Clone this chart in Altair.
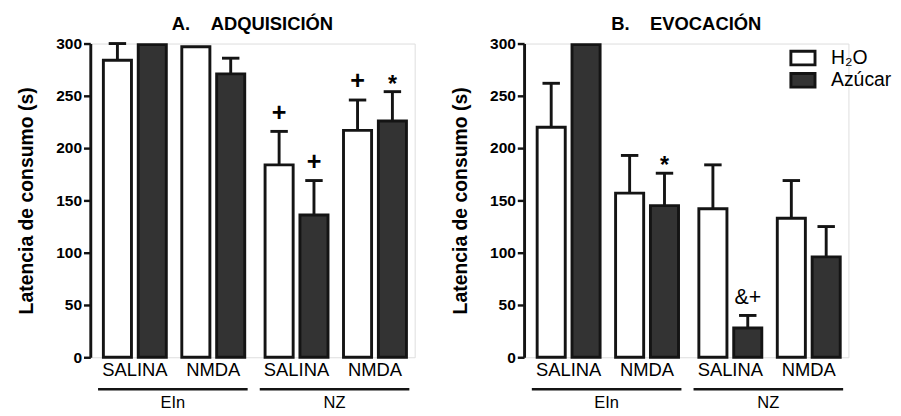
import altair as alt
import pandas as pd

# ---------------- data ----------------
groups = ["EIn", "EIn", "NZ", "NZ"]
drugs = ["SALINA", "NMDA", "SALINA", "NMDA"]
liquids = ["H₂O", "Azúcar"]

a_h2o = [284, 297, 184, 217]
a_h2o_err = [16, 0, 32, 29]
a_azu = [299, 271, 136, 226]
a_azu_err = [0, 15, 33, 28]
a_h2o_sig = ["", "", "+", "+"]
a_azu_sig = ["", "", "+", "*"]

b_h2o = [220, 157, 142, 133]
b_h2o_err = [42, 36, 42, 36]
b_azu = [299, 145, 28, 96]
b_azu_err = [0, 31, 12, 29]
b_h2o_sig = ["", "", "", ""]
b_azu_sig = ["", "*", "&+", ""]

y_ticks = [0, 50, 100, 150, 200, 250, 300]

# ---------------- layout ----------------
W, H = 335, 324
LEFT, BAR, INNER, PAIR_STEP, GROUP_GAP, STROKE, CAP = 12, 32, 4, 81, 5, 3, 9
FONT = "Liberation Sans, Arial, Helvetica, sans-serif"
INK = "#141414"
group_order = list(dict.fromkeys(groups))


def build_frames(series):
    rows, pairs = [], []
    for i in range(len(drugs)):
        gi = group_order.index(groups[i])
        base = LEFT + i * PAIR_STEP + gi * GROUP_GAP
        pairs.append(dict(group=groups[i], drug=drugs[i], left=base,
                          right=base + 2 * BAR + INNER, center=base + BAR + INNER / 2))
        for j, (vals, errs, sigs) in enumerate(series):
            x0 = base + j * (BAR + INNER) + STROKE / 2
            x1 = x0 + BAR - STROKE
            c = (x0 + x1) / 2
            rows.append(dict(liq=liquids[j], x0=x0, x1=x1, c=c, cl=c - CAP, cr=c + CAP,
                             v=vals[i], err=errs[i], top=vals[i] + errs[i], sig=sigs[i]))
    df = pd.DataFrame(rows)
    pf = pd.DataFrame(pairs)
    gf = pf.groupby("group", sort=False).agg(left=("left", "min"), right=("right", "max")).reset_index()
    gf["left"] = gf["left"] - 4
    gf["right"] = gf["right"] + 1.5
    gf["mid"] = (gf["left"] + gf["right"]) / 2
    return df, pf, gf


def panel(title, series, show_legend):
    df, pf, gf = build_frames(series)
    xs = alt.Scale(domain=[0, W], nice=False, zero=False)
    ys = alt.Scale(domain=[0, 300], nice=False)
    base = alt.Chart(df)

    if show_legend:
        legend = alt.Legend(
            orient="none", legendX=278, legendY=5, title=None, padding=0,
            symbolType="M-1.78,-1H1.78V1H-1.78Z", symbolSize=196,
            symbolStrokeWidth=3, symbolStrokeColor=INK, symbolOpacity=1,
            labelFontSize=20, labelFont=FONT, labelColor="#000",
            labelOffset=19, rowPadding=-5, labelLimit=200,
        )
    else:
        legend = None

    stems = base.transform_filter("datum.err > 0").mark_rule(strokeWidth=3, color=INK).encode(
        x=alt.X("c:Q", scale=xs, axis=None), y=alt.Y("v:Q", scale=ys), y2="top:Q")
    caps = base.transform_filter("datum.err > 0").mark_rule(strokeWidth=3, color=INK).encode(
        x=alt.X("cl:Q", scale=xs, axis=None), x2="cr:Q", y=alt.Y("top:Q", scale=ys))
    bars = base.mark_rect(strokeWidth=STROKE, stroke=INK).encode(
        x=alt.X("x0:Q", scale=xs, axis=None),
        x2="x1:Q",
        y=alt.Y("v:Q", scale=ys, axis=alt.Axis(
            values=y_ticks, title="Latencia de consumo (s)", titleFont=FONT,
            titleFontSize=20, titleFontWeight="bold", titleColor="#000", titlePadding=20,
            labelFont=FONT, labelFontSize=16, labelFontWeight="bold", labelColor="#000",
            labelPadding=2, tickSize=7, tickWidth=2.5, tickColor=INK,
            domainWidth=3, domainColor=INK, grid=False)),
        y2=alt.datum(0),
        fill=alt.Fill("liq:N", scale=alt.Scale(domain=liquids, range=["#ffffff", "#333333"]),
                      legend=legend, sort=liquids),
    )
    plus = base.transform_filter("datum.sig == '+'").mark_text(
        baseline="bottom", dy=-6, fontSize=26, fontWeight="bold", font=FONT, color="#000").encode(
        x=alt.X("c:Q", scale=xs, axis=None), y=alt.Y("top:Q", scale=ys), text="sig:N")
    star = base.transform_filter("datum.sig == '*'").mark_text(
        baseline="bottom", dy=5, fontSize=24, fontWeight="bold", font=FONT, color="#000").encode(
        x=alt.X("c:Q", scale=xs, axis=None), y=alt.Y("top:Q", scale=ys), text="sig:N")
    other = base.transform_filter("datum.sig != '' && datum.sig != '+' && datum.sig != '*'").mark_text(
        baseline="bottom", dy=-7, fontSize=22, font=FONT, color="#000").encode(
        x=alt.X("c:Q", scale=xs, axis=None), y=alt.Y("top:Q", scale=ys), text="sig:N")

    cat = alt.Chart(pf).mark_text(fontSize=19, font=FONT, baseline="middle", color="#000").encode(
        x=alt.X("center:Q", scale=xs, axis=None), y=alt.value(H + 13), text="drug:N")
    glines = alt.Chart(gf).mark_rule(strokeWidth=2.5, color=INK).encode(
        x=alt.X("left:Q", scale=xs, axis=None), x2="right:Q", y=alt.value(H + 33))
    glabels = alt.Chart(gf).mark_text(fontSize=17, font=FONT, baseline="middle", color="#000").encode(
        x=alt.X("mid:Q", scale=xs, axis=None), y=alt.value(H + 47), text="group:N")

    return alt.layer(stems, caps, bars, plus, star, other, cat, glines, glabels).properties(
        width=W, height=H,
        title=alt.TitleParams(title, font=FONT, fontSize=19, fontWeight="bold",
                              anchor="middle", offset=2, color="#000"),
    )


pa = panel("A.\u00a0\u00a0\u00a0\u00a0ADQUISICIÓN",
           [(a_h2o, a_h2o_err, a_h2o_sig), (a_azu, a_azu_err, a_azu_sig)], False)
pb = panel("B.\u00a0\u00a0\u00a0\u00a0EVOCACIÓN",
           [(b_h2o, b_h2o_err, b_h2o_sig), (b_azu, b_azu_err, b_azu_sig)], True)

chart = alt.hconcat(pa, pb, spacing=35).resolve_legend(fill="independent").properties(
    padding={"left": 8, "top": 0, "right": 0, "bottom": 0}
).configure_view(stroke=None).configure(background="white")

chart.save("out.html", embed_options={"renderer": "svg", "actions": False})
